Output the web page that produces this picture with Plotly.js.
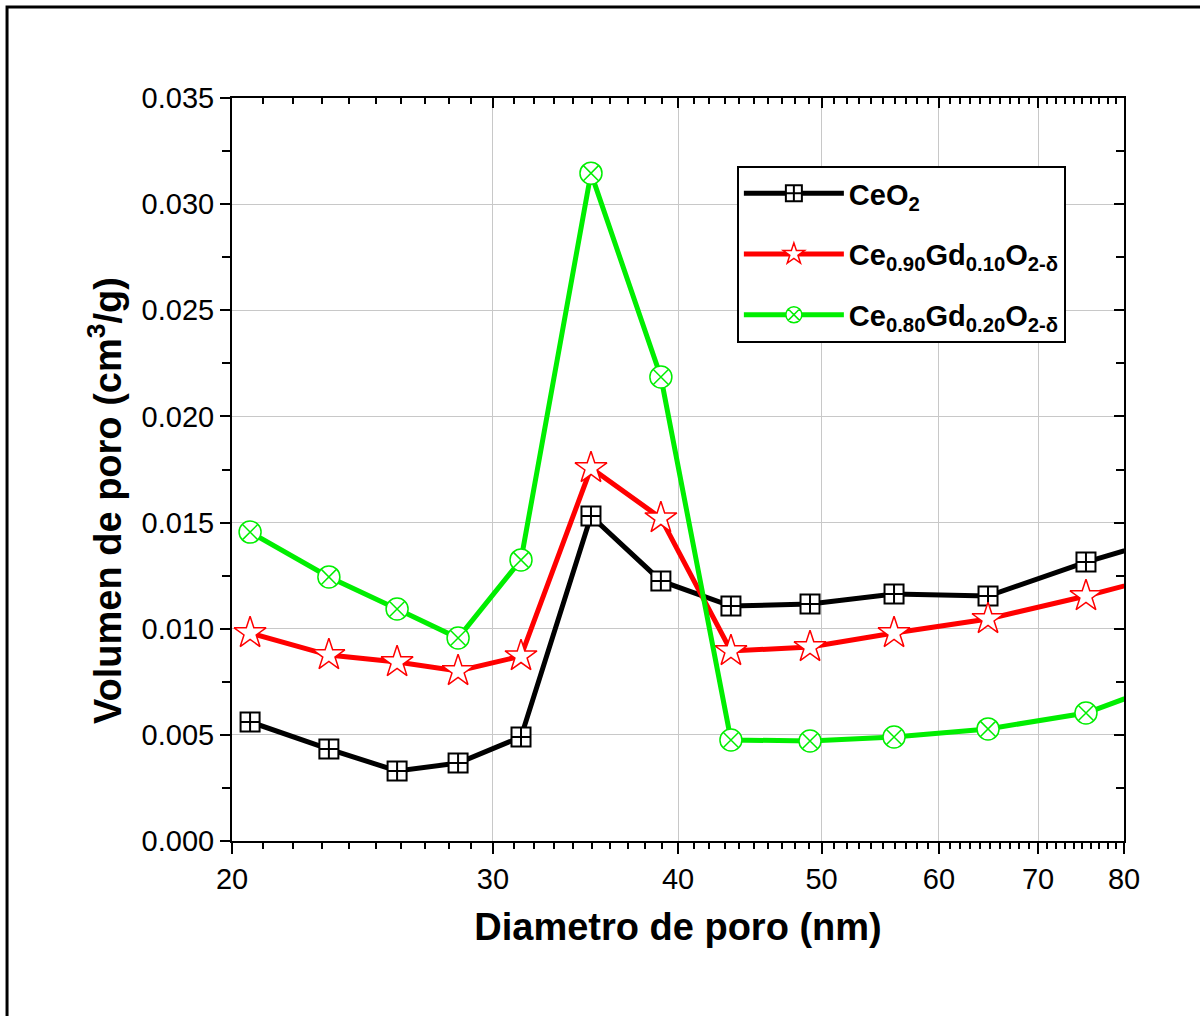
<!DOCTYPE html>
<html>
<head>
<meta charset="utf-8">
<script src="https://cdn.plot.ly/plotly-3.0.1.min.js"></script>
<style>html,body{margin:0;padding:0;background:#fff;}#chart{width:1200px;height:1016px;}</style>
</head>
<body>
<div id="chart"></div>
<script>
// Pore diameter (nm) — last point lies beyond the axis end and is clipped
const diameter = [20.57, 23.25, 25.85, 28.42, 31.34, 34.94, 38.95, 43.43, 49.11, 55.96, 64.76, 75.41, 88.2];
const ceo2     = [0.00561, 0.00433, 0.00330, 0.00367, 0.00490, 0.01531, 0.01225, 0.01107, 0.01116, 0.01163, 0.01154, 0.01314, 0.01455];
const gd10     = [0.00980, 0.00876, 0.00843, 0.00801, 0.00871, 0.01757, 0.01521, 0.00895, 0.00914, 0.00980, 0.01046, 0.01154, 0.01279];
const gd20     = [0.01455, 0.01244, 0.01093, 0.00956, 0.01324, 0.03146, 0.02186, 0.00476, 0.00471, 0.00490, 0.00528, 0.00603, 0.00778];
const seriesNames = ['CeO<sub>2</sub>', 'Ce<sub>0.90</sub>Gd<sub>0.10</sub>O<sub>2-δ</sub>', 'Ce<sub>0.80</sub>Gd<sub>0.20</sub>O<sub>2-δ</sub>'];
const xTicks = [20, 30, 40, 50, 60, 70, 80];
const xMinorTicks = [21,22,23,24,25,26,27,28,29,31,32,33,34,35,36,37,38,39,41,42,43,44,45,46,47,48,49,51,52,53,54,55,56,57,58,59,61,62,63,64,65,66,67,68,69,71,72,73,74,75,76,77,78,79];
const xTitle = 'Diametro de poro (nm)';
const yTitle = 'Volumen de poro (cm<sup>3</sup>/g)';

const FONT = 'Liberation Sans, Arial, sans-serif';

function trace(y, name, group, lineColor, symbol, size, mlw){
  return {
    x: diameter, y: y, name: name, legendgroup: group, type: 'scatter', mode: 'lines+markers',
    line: {color: lineColor, width: 5},
    marker: {symbol: symbol, size: size, color: 'white', line: {color: lineColor, width: mlw}},
    cliponaxis: true
  };
}

const data = [
  trace(ceo2, seriesNames[0], 'a', '#000000', 'square-cross', 19, 2),
  trace(gd10, seriesNames[1], 'b', '#ff0000', 'star', 24, 1.5),
  trace(gd20, seriesNames[2], 'c', '#00ee00', 'circle-x', 22, 1.5),
  {x: [], y: [], xaxis: 'x2', yaxis: 'y2', showlegend: false, type: 'scatter', hoverinfo: 'skip'}
];

const xr = [Math.log10(20), Math.log10(80)];
const yr = [0, 0.035];

const layout = {
  width: 1200, height: 1016,
  margin: {l: 232, r: 76, t: 98, b: 175},
  paper_bgcolor: 'white', plot_bgcolor: 'white',
  font: {family: FONT, color: '#000'},
  showlegend: true,
  legend: {
    x: 0.566, y: 0.9085, xanchor: 'left', yanchor: 'top',
    bgcolor: 'white', bordercolor: '#000', borderwidth: 2,
    font: {family: FONT, size: 29, color: '#000', weight: 'bold'},
    itemwidth: 100, traceorder: 'grouped', tracegroupgap: 20
  },
  xaxis: {
    type: 'log', range: xr, tickvals: xTicks, ticktext: xTicks.map(String),
    ticks: 'outside', ticklen: 11, tickwidth: 2, tickcolor: '#000',
    showline: true, linecolor: '#000', linewidth: 2,
    showgrid: true, gridcolor: '#c8c8c8', gridwidth: 1,
    zeroline: false,
    tickfont: {family: FONT, size: 29, color: '#000'},
    minor: {tickvals: xMinorTicks, ticks: 'outside', ticklen: 6, tickwidth: 2, tickcolor: '#000', showgrid: false},
    title: {text: xTitle, font: {family: FONT, size: 38, color: '#000', weight: 'bold'}, standoff: 20}
  },
  yaxis: {
    range: yr, dtick: 0.005, tick0: 0, tickformat: '.3f',
    ticks: 'outside', ticklen: 10, tickwidth: 2, tickcolor: '#000',
    showline: true, linecolor: '#000', linewidth: 2,
    showgrid: true, gridcolor: '#c8c8c8', gridwidth: 1,
    zeroline: false,
    tickfont: {family: FONT, size: 29, color: '#000'},
    minor: {dtick: 0.0025, ticks: 'outside', ticklen: 8, tickwidth: 2, tickcolor: '#000', showgrid: false}
  },
  xaxis2: {
    type: 'log', range: xr, overlaying: 'x', side: 'top', tickvals: xTicks,
    showticklabels: false, ticks: 'inside', ticklen: 10, tickwidth: 2, tickcolor: '#000',
    showline: true, linecolor: '#000', linewidth: 2, showgrid: false, zeroline: false,
    minor: {tickvals: xMinorTicks, ticks: 'inside', ticklen: 6, tickwidth: 2, tickcolor: '#000', showgrid: false}
  },
  yaxis2: {
    range: yr, overlaying: 'y', side: 'right', dtick: 0.005, tick0: 0,
    showticklabels: false, ticks: 'inside', ticklen: 10, tickwidth: 2, tickcolor: '#000',
    showline: true, linecolor: '#000', linewidth: 2, showgrid: false, zeroline: false,
    minor: {dtick: 0.0025, ticks: 'inside', ticklen: 8, tickwidth: 2, tickcolor: '#000', showgrid: false}
  },
  annotations: [
    {text: yTitle, xref: 'paper', yref: 'paper', x: -0.1424, y: 0.459, xanchor: 'center', yanchor: 'middle',
     textangle: -90, showarrow: false, font: {family: FONT, size: 38, color: '#000', weight: 'bold'}}
  ],
  shapes: [
    {type: 'rect', xref: 'paper', yref: 'paper', x0: -0.2522, x1: 1.2, y0: -0.4, y1: 1.1225,
     line: {color: '#000', width: 3}, fillcolor: 'rgba(0,0,0,0)', layer: 'below'}
  ]
};

Plotly.newPlot('chart', data, layout, {displayModeBar: false, staticPlot: true});
</script>
</body>
</html>
